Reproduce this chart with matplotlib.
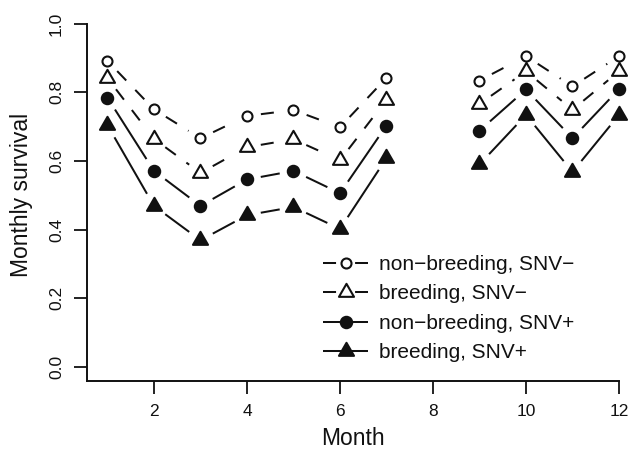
import numpy as np
import matplotlib
matplotlib.use('Agg')
import matplotlib.pyplot as plt
from matplotlib.path import Path
from matplotlib.lines import Line2D

plt.rcParams['font.family'] = ['Liberation Sans', 'DejaVu Sans']
plt.rcParams['lines.scale_dashes'] = False

#monthly survival (no value for month 8)
months = np.arange(1, 13)
nan = np.nan
nonbreed_neg = [0.891, 0.750, 0.666, 0.731, 0.748, 0.698, 0.842, nan, 0.834, 0.905, 0.817, 0.905]
breed_neg = [0.841, 0.664, 0.565, 0.640, 0.663, 0.602, 0.778, nan, 0.766, 0.861, 0.749, 0.861]
nonbreed_pos = [0.784, 0.571, 0.469, 0.546, 0.571, 0.506, 0.703, nan, 0.688, 0.808, 0.666, 0.809]
breed_pos = [0.704, 0.469, 0.369, 0.442, 0.466, 0.402, 0.608, nan, 0.590, 0.734, 0.568, 0.734]

series = [nonbreed_neg, breed_neg, nonbreed_pos, breed_pos]
labels = ['non\u2212breeding, SNV\u2212', 'breeding, SNV\u2212',
          'non\u2212breeding, SNV+', 'breeding, SNV+']

x_ticks = [2, 4, 6, 8, 10, 12]
y_ticks = [0.0, 0.2, 0.4, 0.6, 0.8, 1.0]

#R style equilateral triangle (pch 2 / 17)
tri = Path([(0, 1.555), (1.347, -0.778), (-1.347, -0.778), (0, 1.555)],
           [Path.MOVETO, Path.LINETO, Path.LINETO, Path.CLOSEPOLY])

ink = '#111111'
lw = 1.45
dash = (0, (9.4, 9.4))
leg_dash = (0, (9.4, 13.7))
styles = [
    dict(marker='o', ms=7.2, filled=False, dashed=True),
    dict(marker=tri, ms=12.5, filled=False, dashed=True),
    dict(marker='o', ms=8.2, filled=True, dashed=False),
    dict(marker=tri, ms=12.5, filled=True, dashed=False),
]

W, H = 628, 454
fig = plt.figure(figsize=(W / 100, H / 100), dpi=100)
ax = fig.add_axes([87.3 / W, 1 - 381 / H, (619 - 87.3) / W, (381 - 9.8) / H])
ax.set_xlim(0.566, 12)
ax.set_ylim(-0.0408, 1.040)

def gapped(x, y, gap, **kw):
    #type="b": segments between points, cut back near each point
    pts = ax.transData.transform(np.column_stack([x, y]))
    inv = ax.transData.inverted()
    for i in range(len(x) - 1):
        if np.isnan(y[i]) or np.isnan(y[i + 1]):
            continue
        d = pts[i + 1] - pts[i]
        L = np.hypot(d[0], d[1])
        if L <= 2 * gap:
            continue
        u = d / L
        seg = inv.transform([pts[i] + u * gap, pts[i + 1] - u * gap])
        ax.plot(seg[:, 0], seg[:, 1], color=ink, lw=lw, solid_capstyle='butt',
                dash_capstyle='butt', **kw)

handles = []
for vals, st in zip(series, styles):
    y = np.array(vals, dtype=float)
    if st['dashed']:
        gapped(months, y, 14, linestyle=dash)
    else:
        gapped(months, y, 14, linestyle='-')
    face = ink if st['filled'] else 'none'
    ax.plot(months, y, linestyle='none', marker=st['marker'], ms=st['ms'],
            mfc=face, mec=ink, mew=1.5, clip_on=False, zorder=3)
    handles.append(Line2D([], [], color=ink, lw=lw,
                          linestyle=leg_dash if st['dashed'] else '-',
                          dash_capstyle='butt', solid_capstyle='butt',
                          marker=st['marker'], ms=st['ms'],
                          mfc=ink if st['filled'] else 'white', mec=ink, mew=1.5))

ax.legend(handles, labels, loc='upper left', bbox_to_anchor=(323 / W, 1 - 255 / H),
          bbox_transform=fig.transFigure, frameon=False, borderpad=0, borderaxespad=0,
          handlelength=2.16, handletextpad=0.53, labelspacing=0.5, fontsize=15,
          numpoints=1, labelcolor=ink)

ax.spines['top'].set_visible(False)
ax.spines['right'].set_visible(False)
for s in ['left', 'bottom']:
    ax.spines[s].set_linewidth(1.4)
    ax.spines[s].set_color(ink)
    ax.spines[s].set_capstyle('projecting')
ax.spines['left'].set_bounds(-0.0408, 1.0)
ax.spines['bottom'].set_bounds(0.566, 12)

ax.set_xticks(x_ticks)
ax.set_xticklabels([str(t) for t in x_ticks])
ax.set_yticks(y_ticks)
ax.set_yticklabels(['%.1f' % t for t in y_ticks])
ax.tick_params(length=9.7, width=1.3, color=ink, labelsize=12.5, labelcolor=ink, pad=7)
ax.tick_params(axis='y', labelrotation=90)
for t in ax.get_yticklabels():
    t.set_va('center')

ax.set_xlabel('Month', fontsize=16.5, color=ink)
ax.set_ylabel('Monthly survival', fontsize=16.5, color=ink)
ax.xaxis.set_label_coords(0.5, -0.124)
ax.yaxis.set_label_coords(-0.102, 0.5)

fig.savefig('out.png', dpi=100)
